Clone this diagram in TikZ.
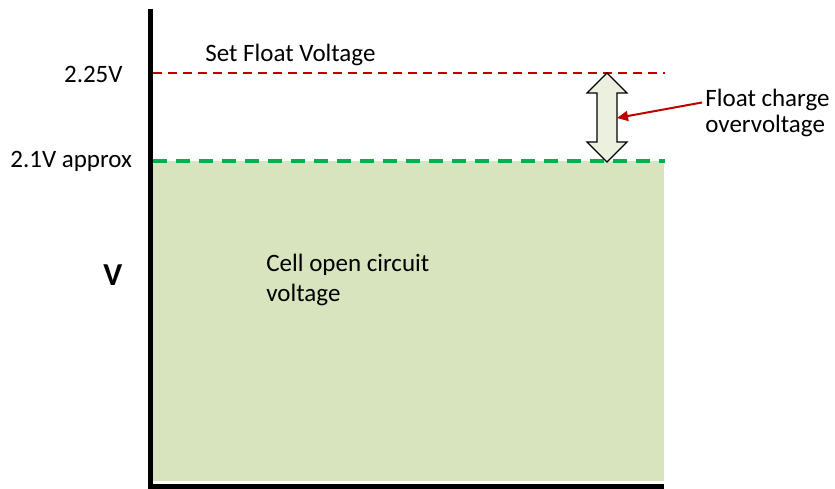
\documentclass[tikz,border=0pt]{standalone}
\usepackage{fontspec}
\setmainfont{Carlito}
\usetikzlibrary{arrows.meta}
\definecolor{cellfill}{HTML}{D7E4BD}
\definecolor{floatred}{HTML}{C00000}
\definecolor{ocvgreen}{HTML}{00B050}
\definecolor{arrowfill}{HTML}{EBF1DE}

\begin{document}
\begin{tikzpicture}[x=1pt,y=-1pt,line width=.8pt,font=\fontsize{25}{30}\selectfont]
\useasboundingbox (0,0) rectangle (835,489);
\fill[cellfill] (153,161) rectangle (664,481);
\draw[floatred,line width=2pt,dash pattern=on 9pt off 6pt] (153,73)--(665,73);
\draw[ocvgreen,line width=4pt,dash pattern=on 14pt off 9pt] (153,161)--(665,161);
\draw[line width=5pt,miter limit=4] (150.5,9)--(150.5,486.5)--(664,486.5);
\draw[fill=arrowfill,line width=1.1pt] (607,73)--(627,93)--(617,93)--(617,142)--(627,142)--(607,162)--(587,142)--(597,142)--(597,93)--(587,93)--cycle;
\coordinate (shaft) at (617,118);
\node[anchor=base west,inner sep=0pt] (setfloat) at (205,62) {Set Float Voltage};
\node[anchor=base east,inner sep=0pt] (vfloat) at (123,83) {2.25V};
\node[anchor=base west,inner sep=0pt] (vocv) at (10,168) {2.1V approx};
\node[anchor=base west,inner sep=0pt,font=\fontsize{32}{38}\selectfont\bfseries] (vaxis) at (103,285) {V};
\node[anchor=base west,inner sep=0pt] (cella) at (266,271) {Cell open circuit};
\node[anchor=base west,inner sep=0pt] (cellb) at ([yshift=-30pt]cella.base west) {voltage};
\node[anchor=base west,inner sep=0pt] (fca) at (705,107) {Float charge};
\node[anchor=base west,inner sep=0pt] (fcb) at ([yshift=-26pt]fca.base west) {overvoltage};
\draw[floatred,line width=2pt,-{Triangle[length=11pt,width=10pt]}] ([xshift=-3pt,yshift=-2pt]fca.west)--(shaft);
\end{tikzpicture}
\end{document}
